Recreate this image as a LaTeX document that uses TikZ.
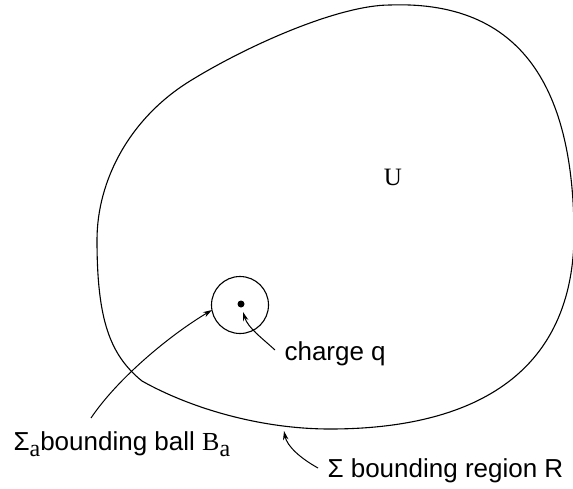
\documentclass[tikz,border=0pt]{standalone}
\usepackage{fontspec}
\setsansfont{Liberation Sans}
\newfontfamily\serifx{Liberation Serif}
\usetikzlibrary{arrows.meta}
\newcommand{\subA}{\raisebox{-6pt}{\serifx\fontsize{24}{24}\selectfont a}}
\begin{document}
\begin{tikzpicture}[x=1pt,y=-1pt,
  line width=1.1pt,
  arr/.style={line width=1pt,-{Stealth[length=9pt,width=5.5pt]}},
  lbl/.style={inner sep=0pt,anchor=base west,font=\sffamily\fontsize{26}{30}\selectfont}]
\useasboundingbox (0,0) rectangle (573,488);
% bounding region
\coordinate (K) at (142,381);
\coordinate (Bt) at (330,429);
\coordinate (Rt) at (574,240);
\coordinate (Tp) at (390,5);
\coordinate (M) at (190,81);
\coordinate (L) at (97,240);
\draw (K) .. controls (190,408) and (260,429) .. (Bt)
          .. controls (450,429) and (570,390) .. (Rt)
          .. controls (575,100) and (530,0) .. (Tp)
          .. controls (340,5) and (250,44) .. (M)
          .. controls (130,118) and (97,180) .. (L)
          .. controls (97,320) and (110,355) .. (K);
\node[font=\serifx\fontsize{25}{28}\selectfont,inner sep=0pt] (U) at (393,177) {U};
% ball and charge
\node[draw,circle,minimum size=57pt,inner sep=0pt,line width=1.1pt] (ball) at (240,305) {};
\node[fill,circle,minimum size=7pt,inner sep=0pt] (q) at (241,304) {};
% labels
\node[lbl] (chq) at (284,360) {charge q};
\node[lbl] (sba) at (13,450) {Σ\subA bounding ball {\serifx B}\subA};
\node[lbl] (sbr) at (327,477) {Σ bounding region R};
% connectors
\coordinate (cqs) at (275,350);
\coordinate (cqe) at (243,312);
\draw[arr] (cqs) .. controls (262,338) and (248,328) .. (cqe);
\coordinate (bas) at (91,418);
\coordinate (bae) at (212,310);
\draw[arr] (bas) .. controls (118,378) and (170,335) .. (bae);
\coordinate (brs) at (318,468);
\coordinate (bre) at (284,431);
\draw[arr] (brs) .. controls (300,458) and (287,446) .. (bre);
\end{tikzpicture}
\end{document}
